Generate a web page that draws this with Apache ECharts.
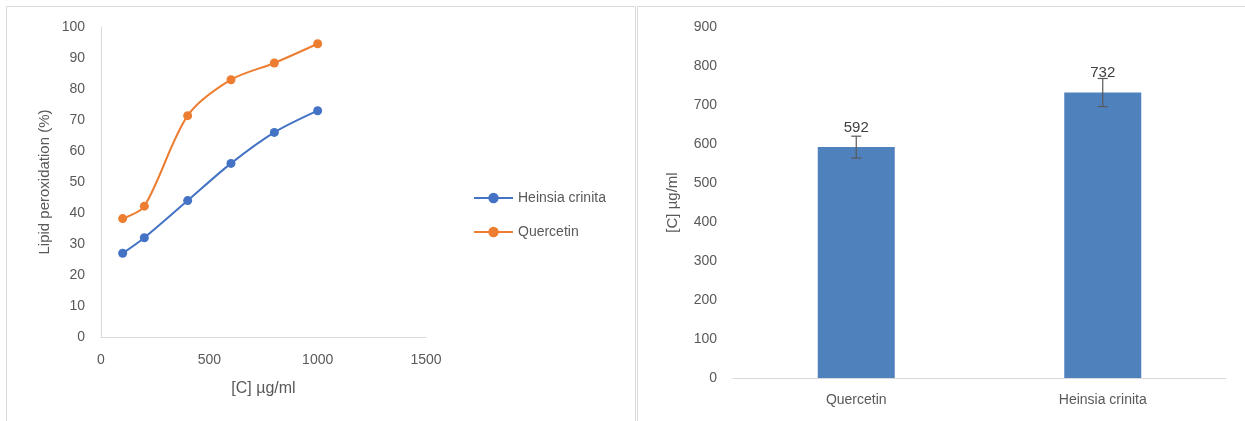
<!DOCTYPE html>
<html>
<head>
<meta charset="utf-8">
<script src="https://cdn.jsdelivr.net/npm/echarts@6/dist/echarts.min.js"></script>
<style>
html,body{margin:0;padding:0;background:#fff;}
#c{width:1245px;height:421px;}
</style>
</head>
<body>
<div id="c"></div>
<script>
// Left chart data
const concentrations = [100, 200, 400, 600, 800, 1000];
const heinsiaPeroxidation = [27, 32, 44, 56, 66, 73];
const quercetinPeroxidation = [38.2, 42.2, 71.4, 83, 88.4, 94.6];
// Right chart data
const barCategories = ['Quercetin', 'Heinsia crinita'];
const barValues = [592, 732];
const barErrors = [28, 36];

const FONT = 'Liberation Sans';
const GREY = '#595959';
const AXIS = '#d9d9d9';

const chart = echarts.init(document.getElementById('c'), null, {renderer: 'canvas'});

const option = {
  animation: false,
  textStyle: {fontFamily: FONT},
  graphic: [
    {type: 'polyline', shape: {points: [[6.5, 421], [6.5, 6.5], [635.5, 6.5], [635.5, 421]]}, style: {stroke: AXIS, lineWidth: 1, fill: null}},
    {type: 'polyline', shape: {points: [[637.5, 421], [637.5, 6.5], [1245, 6.5]]}, style: {stroke: AXIS, lineWidth: 1, fill: null}}
  ],
  legend: {
    orient: 'vertical',
    left: 473,
    top: 191,
    padding: 0,
    itemWidth: 39,
    itemHeight: 13,
    itemGap: 20,
    textStyle: {color: GREY, fontSize: 14, fontFamily: FONT},
    data: ['Heinsia crinita', 'Quercetin']
  },
  grid: [
    {left: 101, top: 27, width: 325, height: 310},
    {left: 733, top: 27, width: 493, height: 351}
  ],
  xAxis: [
    {
      gridIndex: 0, type: 'value', min: 0, max: 1500, interval: 500,
      axisLine: {show: true, lineStyle: {color: AXIS, width: 1}},
      axisTick: {show: false}, splitLine: {show: false},
      axisLabel: {color: GREY, fontSize: 14, margin: 16, formatter: v => String(v)},
      name: '[C] µg/ml', nameLocation: 'middle', nameGap: 44,
      nameTextStyle: {color: GREY, fontSize: 16}
    },
    {
      gridIndex: 1, type: 'category', data: barCategories,
      axisLine: {show: true, lineStyle: {color: AXIS, width: 1}},
      axisTick: {show: false},
      axisLabel: {color: GREY, fontSize: 14, margin: 15}
    }
  ],
  yAxis: [
    {
      gridIndex: 0, type: 'value', min: 0, max: 100, interval: 10,
      axisLine: {show: true, lineStyle: {color: AXIS, width: 1}},
      axisTick: {show: false}, splitLine: {show: false},
      axisLabel: {color: GREY, fontSize: 14, margin: 16},
      name: 'Lipid peroxidation (%)', nameLocation: 'middle', nameGap: 49,
      nameTextStyle: {color: GREY, fontSize: 15}
    },
    {
      gridIndex: 1, type: 'value', min: 0, max: 900, interval: 100,
      axisLine: {show: false}, axisTick: {show: false}, splitLine: {show: false},
      axisLabel: {color: GREY, fontSize: 14, margin: 16},
      name: '[C] µg/ml', nameLocation: 'middle', nameGap: 53,
      nameTextStyle: {color: GREY, fontSize: 15}
    }
  ],
  series: [
    {
      name: 'Heinsia crinita', type: 'line', xAxisIndex: 0, yAxisIndex: 0,
      data: concentrations.map((c, i) => [c, heinsiaPeroxidation[i]]),
      smooth: 0.3, symbol: 'circle', symbolSize: 9,
      lineStyle: {color: '#4472C4', width: 2}, itemStyle: {color: '#4472C4'}
    },
    {
      name: 'Quercetin', type: 'line', xAxisIndex: 0, yAxisIndex: 0,
      data: concentrations.map((c, i) => [c, quercetinPeroxidation[i]]),
      smooth: 0.3, symbol: 'circle', symbolSize: 9,
      lineStyle: {color: '#ED7D31', width: 2}, itemStyle: {color: '#ED7D31'}
    },
    {
      name: 'IC50', type: 'bar', xAxisIndex: 1, yAxisIndex: 1,
      data: barValues, barWidth: 77,
      itemStyle: {color: '#4F81BD'},
      label: {show: true, position: 'top', distance: 12, color: '#404040', fontSize: 15}
    },
    {
      name: 'err', type: 'custom', xAxisIndex: 1, yAxisIndex: 1,
      data: barValues.map((v, i) => [i, v - barErrors[i], v + barErrors[i]]),
      renderItem: function (params, api) {
        const lo = api.coord([api.value(0), api.value(1)]);
        const hi = api.coord([api.value(0), api.value(2)]);
        const x = lo[0], w = 5;
        const st = {stroke: '#595959', lineWidth: 1.2};
        return {type: 'group', children: [
          {type: 'line', shape: {x1: x, y1: lo[1], x2: x, y2: hi[1]}, style: st},
          {type: 'line', shape: {x1: x - w, y1: lo[1], x2: x + w, y2: lo[1]}, style: st},
          {type: 'line', shape: {x1: x - w, y1: hi[1], x2: x + w, y2: hi[1]}, style: st}
        ]};
      },
      z: 5
    }
  ]
};
chart.setOption(option);
</script>
</body>
</html>
